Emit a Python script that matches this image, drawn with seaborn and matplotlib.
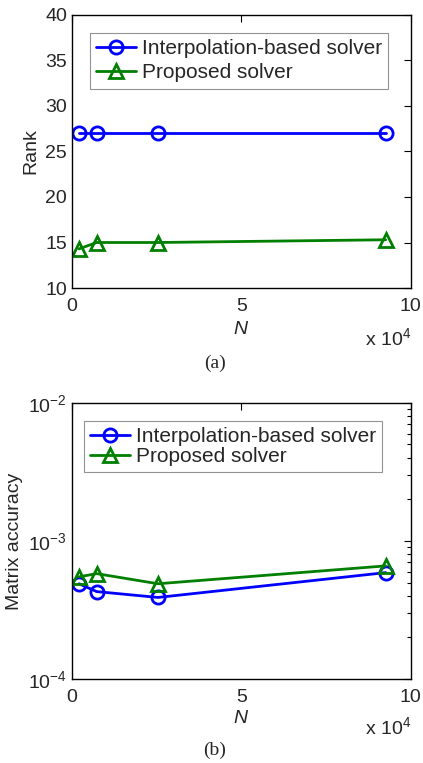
import pandas as pd
import matplotlib
matplotlib.use("Agg")
import matplotlib.pyplot as plt
import seaborn as sns
from matplotlib.ticker import LogLocator, NullFormatter

# ==============================
# Data
# ==============================

N_VALUES = [2100, 7300, 25400, 92600]
SERIES = ["Interpolation-based solver", "Proposed solver"]

RANK_INTERP = [27, 27, 27, 27]
RANK_PROPOSED = [14.3, 15.0, 15.0, 15.3]

ACC_INTERP = [4.9e-4, 4.3e-4, 3.9e-4, 5.9e-4]
ACC_PROPOSED = [5.5e-4, 5.8e-4, 4.9e-4, 6.6e-4]

COLORS = {"Interpolation-based solver": "#0000ff", "Proposed solver": "#007f00"}
MARKERS = {"Interpolation-based solver": "o", "Proposed solver": "^"}


def build_frame(interp, proposed):
    rows = []
    for name, vals in zip(SERIES, [interp, proposed]):
        for n, v in zip(N_VALUES, vals):
            rows.append({"N": n, "value": v, "solver": name})
    return pd.DataFrame(rows)


def style_axis(ax, label_y, mult_y):
    ax.tick_params(which="both", direction="in", top=True, right=True,
                   labelsize=14, width=0.8, color="black")
    ax.tick_params(which="major", length=5)
    ax.tick_params(which="minor", length=3)
    ax.tick_params(axis="x", pad=7)
    for s in ax.spines.values():
        s.set_linewidth(1.0)
        s.set_color("black")
    ax.set_xlim(0, 1e5)
    ax.set_xticks([0, 5e4, 1e5])
    ax.set_xticklabels(["0", "5", "10"])
    ax.set_xlabel("$N$", fontsize=14)
    ax.xaxis.set_label_coords(0.5, label_y)
    ax.text(1.0, mult_y, r"x 10$^4$", transform=ax.transAxes,
            ha="right", va="center", fontsize=14)


def draw_panel(ax, df, anchor, spacing):
    for name in SERIES:
        sub = df[df["solver"] == name]
        sns.lineplot(data=sub, x="N", y="value", ax=ax, color=COLORS[name],
                     marker=MARKERS[name], markersize=9.5, markeredgewidth=2,
                     markerfacecolor="none", markeredgecolor=COLORS[name],
                     linewidth=2, label=name, estimator=None)
    leg = ax.legend(loc="upper left", bbox_to_anchor=anchor, fontsize=15,
                    frameon=True, fancybox=False, edgecolor="#777777",
                    handlelength=1.9, handletextpad=0.3, borderpad=0.3,
                    labelspacing=spacing, borderaxespad=0.0)
    leg.get_frame().set_linewidth(0.8)


def main():
    sns.set_style("white")
    plt.rcParams["font.family"] = ["Liberation Sans", "DejaVu Sans"]
    plt.rcParams["mathtext.fontset"] = "custom"
    plt.rcParams["mathtext.rm"] = "Liberation Sans"
    plt.rcParams["mathtext.it"] = "Liberation Sans:italic"

    fig = plt.figure(figsize=(4.23, 7.63), dpi=100)
    ax1 = fig.add_axes([0.170, 0.6225, 0.801, 0.358])
    ax2 = fig.add_axes([0.170, 0.110, 0.801, 0.362])

    # (a) rank
    draw_panel(ax1, build_frame(RANK_INTERP, RANK_PROPOSED), (0.053, 0.934), 0.25)
    ax1.set_ylim(10, 40)
    ax1.set_yticks([10, 15, 20, 25, 30, 35, 40])
    ax1.set_ylabel("Rank", fontsize=14, labelpad=4)
    style_axis(ax1, -0.12, -0.183)

    # (b) matrix accuracy
    draw_panel(ax2, build_frame(ACC_INTERP, ACC_PROPOSED), (0.035, 0.935), 0.05)
    ax2.set_yscale("log")
    ax2.set_ylim(1e-4, 1e-2)
    ax2.yaxis.set_minor_locator(LogLocator(base=10, subs=range(2, 10)))
    ax2.yaxis.set_minor_formatter(NullFormatter())
    ax2.set_ylabel("Matrix accuracy", fontsize=14, labelpad=4)
    style_axis(ax2, -0.112, -0.173)

    fig.text(0.508, 0.524, "(a)", ha="center", va="center", fontsize=14,
             family=["Liberation Serif", "DejaVu Serif"])
    fig.text(0.508, 0.017, "(b)", ha="center", va="center", fontsize=14,
             family=["Liberation Serif", "DejaVu Serif"])

    fig.savefig("out.png", dpi=100)
    plt.close(fig)


if __name__ == "__main__":
    main()
